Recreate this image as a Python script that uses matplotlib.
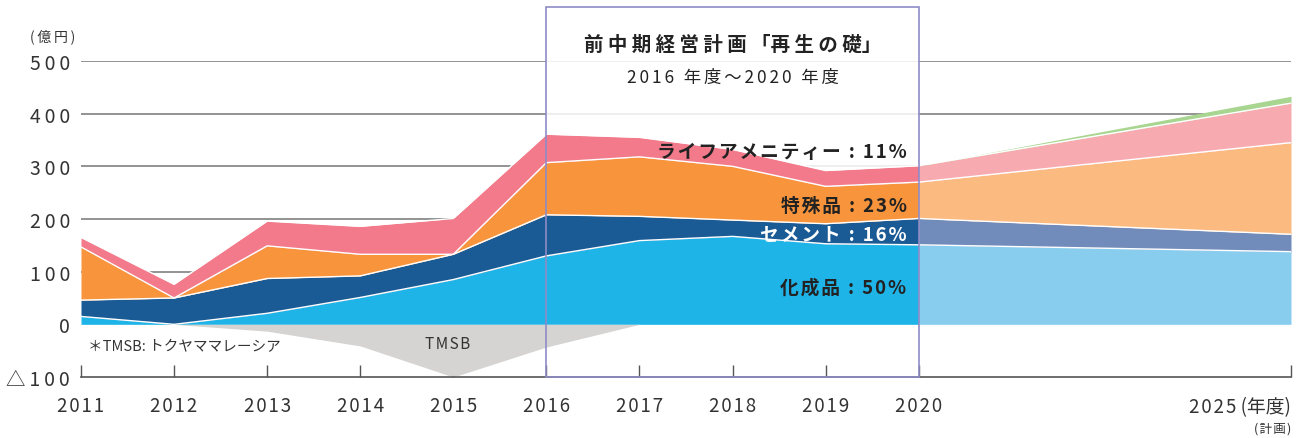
import numpy as np
import matplotlib
matplotlib.use("Agg")
import matplotlib.pyplot as plt
from matplotlib.patches import Rectangle

plt.rcParams['font.family'] = ['Noto Sans CJK JP', 'DejaVu Sans']

# ---- data (億円) ----
years = [2011, 2012, 2013, 2014, 2015, 2016, 2017, 2018, 2019, 2020, 2025]
kaseihin = [15, 0, 21, 51, 85, 130, 159, 167, 153, 151, 138]        # 化成品
cement = [31, 50, 66, 41, 48, 78, 46, 31, 38, 50, 33]               # セメント
tokushu = [101, 0, 62, 41, 0, 99, 113, 102, 71, 69, 174]            # 特殊品
life = [18, 26, 47, 53, 68, 54, 37, 32, 30, 31, 75]                 # ライフアメニティー
new_biz = [0, 0, 0, 0, 0, 0, 0, 0, 0, 0, 13]                        # 新規
tmsb_years = [2011, 2012, 2013, 2014, 2015, 2016, 2017]
tmsb = [0, 0, -13, -41, -100, -43, 0]                               # TMSB

yticks = [-100, 0, 100, 200, 300, 400, 500]
ytick_labels = ['△100', '0', '100', '200', '300', '400', '500']

seg_labels = ['ライフアメニティー : 11%', '特殊品 : 23%', 'セメント : 16%', '化成品 : 50%']

colors_hist = ['#1fb4e8', '#1a5b96', '#f7943c', '#f27a8a', '#a8d590']
colors_plan = ['#88cdee', '#718bba', '#fbba80', '#f7aab0', '#a8d590']

HAIR, SIXTH, THIN = '\u200a', '\u2006', '\u2009'


def spaced(s, gap):
    return gap.join(s)


def xpos(y):
    y = np.asarray(y, dtype=float)
    return np.where(y <= 2020, y - 2011, 9 + (y - 2020) * 0.8)


W, H = 1303, 439
fig = plt.figure(figsize=(W / 100, H / 100), dpi=100)
ax = fig.add_axes([81 / W, (H - 378) / H, (1291 - 81) / W, (378 - 62) / H])
ax.set_xlim(0, 13)
ax.set_ylim(-100, 500)

for s in ['top', 'right', 'left']:
    ax.spines[s].set_visible(False)
ax.spines['bottom'].set_color('#555555')
ax.spines['bottom'].set_linewidth(1.2)

# grid lines
for v in yticks[2:]:
    ax.axhline(v, color='#8a8a8a', lw=1.3, zorder=1)

xs = xpos(years)
layers = np.array([kaseihin, cement, tokushu, life, new_biz], dtype=float)
cum = np.cumsum(layers, axis=0)
lower = np.vstack([np.zeros(len(years)), cum[:-1]])

hist = slice(0, 10)
plan = slice(9, 11)
for i in range(len(layers)):
    if i < 4:
        ax.fill_between(xs[hist], lower[i][hist], cum[i][hist], color=colors_hist[i], lw=0, zorder=2)
    ax.fill_between(xs[plan], lower[i][plan], cum[i][plan], color=colors_plan[i], lw=0, zorder=2)
for i in range(4):
    ax.plot(xs[hist], cum[i][hist], color='white', lw=1.0, zorder=3)
    ax.plot(xs[plan], cum[i][plan], color='white', lw=1.0, zorder=3)

# TMSB
tx = xpos(tmsb_years)
ax.fill_between(tx, tmsb, 0, color='#d5d4d2', lw=0, zorder=2)

# box for mid-term plan
x0, x1 = xpos(2016), xpos(2020)
top = 500 + (62 - 8) / (316 / 600)
ax.add_patch(Rectangle((x0, -100), x1 - x0, top + 100, facecolor='white', alpha=0.85,
                       edgecolor='none', zorder=1.5, clip_on=False))
ax.add_patch(Rectangle((x0, -100), x1 - x0, top + 100, fill=False,
                       edgecolor='#8f8cc6', lw=1.2, zorder=4, clip_on=False))
cx = (x0 + x1) / 2
ax.text(cx, 532, '前 中 期 経 営 計 画 「再 生 の 礎」', ha='center', va='center',
        fontsize=14, fontweight='bold', color='#222222', zorder=5)
ax.text(cx, 469, spaced('2016 年度～2020 年度', SIXTH), ha='center', va='center',
        fontsize=12.5, color='#222222', zorder=5)

# segment labels
lx = 8.87
label_y = [329, 226, 171, 70]
label_c = ['#222222', '#222222', 'white', '#222222']
for t, yv, c in zip(seg_labels, label_y, label_c):
    ax.text(lx, yv, spaced(t, HAIR), ha='right', va='center', fontsize=13.5,
            fontweight='bold', color=c, zorder=5)

# ticks
ax.set_yticks(yticks)
ax.set_yticklabels([spaced(t, THIN) for t in ytick_labels])
ax.tick_params(axis='y', length=0, pad=8, labelsize=14, labelcolor='#333333')
ax.set_xticks(xs)
ax.set_xticklabels([spaced(str(y), HAIR) for y in years[:-1]] + [''])
ax.tick_params(axis='x', direction='in', length=9, width=1, color='#555555',
               pad=13, labelsize=13.5, labelcolor='#333333')

ax.text(13, -157, spaced(str(years[-1]), HAIR) + ' (年度)', ha='right', va='center',
        fontsize=13.5, color='#333333')
ax.text(13, -197, spaced('(計画)', HAIR), ha='right', va='center', fontsize=9, color='#333333')

fig.text(30 / W, 1 - 37 / H, spaced('(億円)', THIN), ha='left', va='center', fontsize=10, color='#333333')
ax.text(0.075, -42, '＊TMSB: トクヤママレーシア', ha='left', va='center', fontsize=10.5,
        color='#333333', zorder=5)
ax.text(3.94, -36, spaced('TMSB', HAIR), ha='center', va='center', fontsize=11,
        color='#333333', zorder=5)

fig.savefig('out.png', dpi=100)
